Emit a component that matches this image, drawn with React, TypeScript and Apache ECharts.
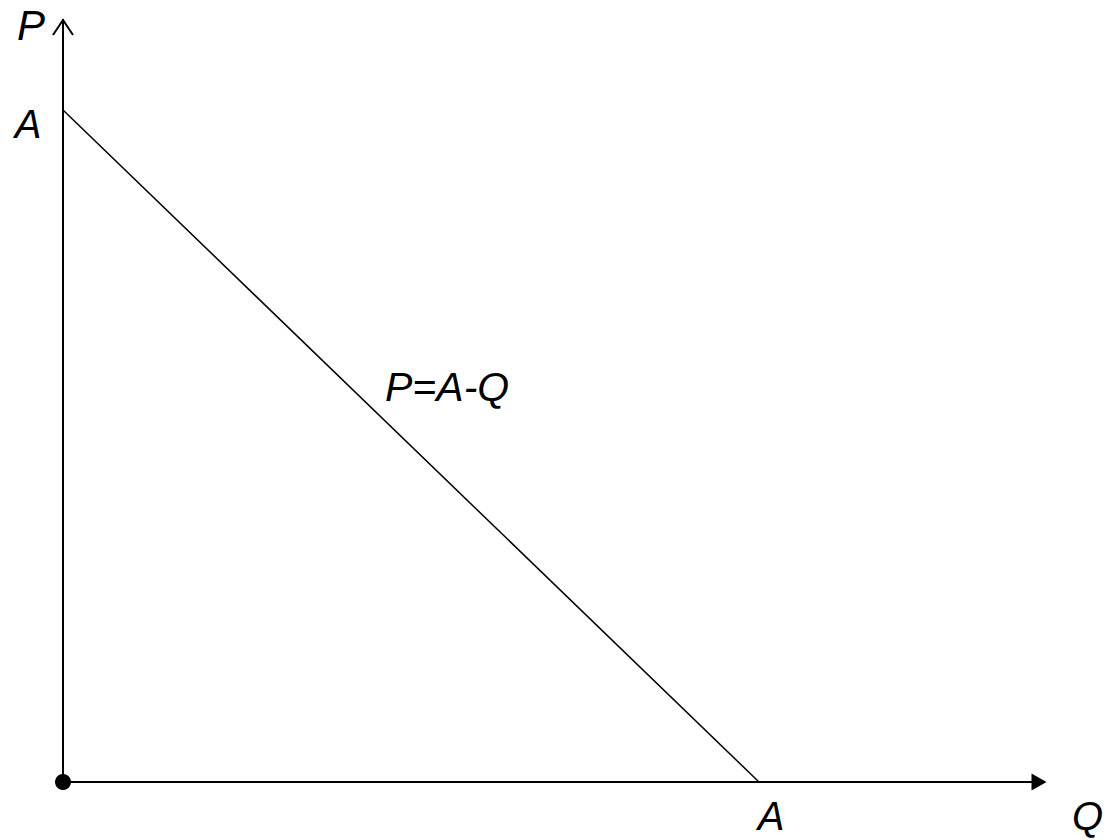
import React, { useEffect, useRef } from "react";
import * as echarts from "echarts";

// Demand curve P = A - Q, with A expressed as 100 units
const A = 100;
const demandQ = [0, A];
const demandP = [A, 0];
const originPoint = [0, 0];
const axisMarks = [
  { value: [A, 0], text: "A", side: "bottom" },
  { value: [0, A], text: "A", side: "left" },
];
const curveLabel = "P=A-Q";
const xName = "Q";
const yName = "P";

const FONT = "'Liberation Sans', Arial, sans-serif";

export default function App() {
  const ref = useRef<HTMLDivElement>(null);
  useEffect(() => {
    if (!ref.current) return;
    const chart = echarts.init(ref.current, undefined, { renderer: "svg" });
    const textStyle = {
      fontFamily: FONT,
      fontStyle: "italic",
      fontSize: 40,
      color: "#000",
    };
    chart.setOption({
      animation: false,
      backgroundColor: "#fff",
      grid: { left: 63, top: 20, right: 68, bottom: 58, containLabel: false },
      xAxis: {
        type: "value",
        min: 0,
        max: 140.23,
        name: xName,
        nameLocation: "end",
        nameGap: 33,
        nameTextStyle: {
          ...textStyle,
          align: "left",
          verticalAlign: "top",
          padding: [14, 0, 0, 0],
        },
        axisLine: {
          onZero: false,
          symbol: ["none", "triangle"],
          symbolSize: [17, 15],
          lineStyle: { color: "#000", width: 2 },
        },
        axisTick: { show: false },
        axisLabel: { show: false },
        splitLine: { show: false },
      },
      yAxis: {
        type: "value",
        min: 0,
        max: 113.39,
        name: yName,
        nameLocation: "end",
        nameGap: -5,
        nameTextStyle: {
          ...textStyle,
          fontSize: 42,
          align: "right",
          verticalAlign: "middle",
          padding: [0, 18, 0, 0],
        },
        axisLine: {
          onZero: false,
          lineStyle: { color: "#000", width: 2 },
        },
        axisTick: { show: false },
        axisLabel: { show: false },
        splitLine: { show: false },
      },
      graphic: [
        {
          type: "polyline",
          shape: { points: [[53, 35], [63, 20], [73, 35]] },
          style: { stroke: "#000", lineWidth: 2, fill: null },
          z: 100,
        },
        {
          type: "text",
          left: 385,
          top: 366,
          style: {
            text: curveLabel,
            font: `italic 41px ${FONT}`,
            fill: "#000",
          },
          z: 100,
        },
      ],
      series: [
        {
          type: "line",
          data: demandQ.map((q, i) => [q, demandP[i]]),
          showSymbol: false,
          symbol: "none",
          lineStyle: { color: "#000", width: 1.5 },
          silent: true,
          z: 3,
        },
        {
          type: "scatter",
          data: [originPoint],
          symbol: "circle",
          symbolSize: 16,
          itemStyle: { color: "#000", opacity: 1 },
          clip: false,
          silent: true,
          z: 5,
        },
        {
          type: "scatter",
          data: axisMarks.map((m) => ({
            value: m.value,
            label: {
              show: true,
              formatter: m.text,
              position: m.side,
              distance: m.side === "bottom" ? 13 : 21,
              offset: m.side === "bottom" ? [12, 0] : [0, 14],
              ...textStyle,
              opacity: 1,
            },
          })),
          symbolSize: 1,
          itemStyle: { color: "rgba(0,0,0,0)", opacity: 1 },
          clip: false,
          silent: true,
        },
      ],
    });
    return () => chart.dispose();
  }, []);
  return (
    <div
      ref={ref}
      style={{ position: "absolute", left: 0, top: 0, width: 1107, height: 840 }}
    />
  );
}
